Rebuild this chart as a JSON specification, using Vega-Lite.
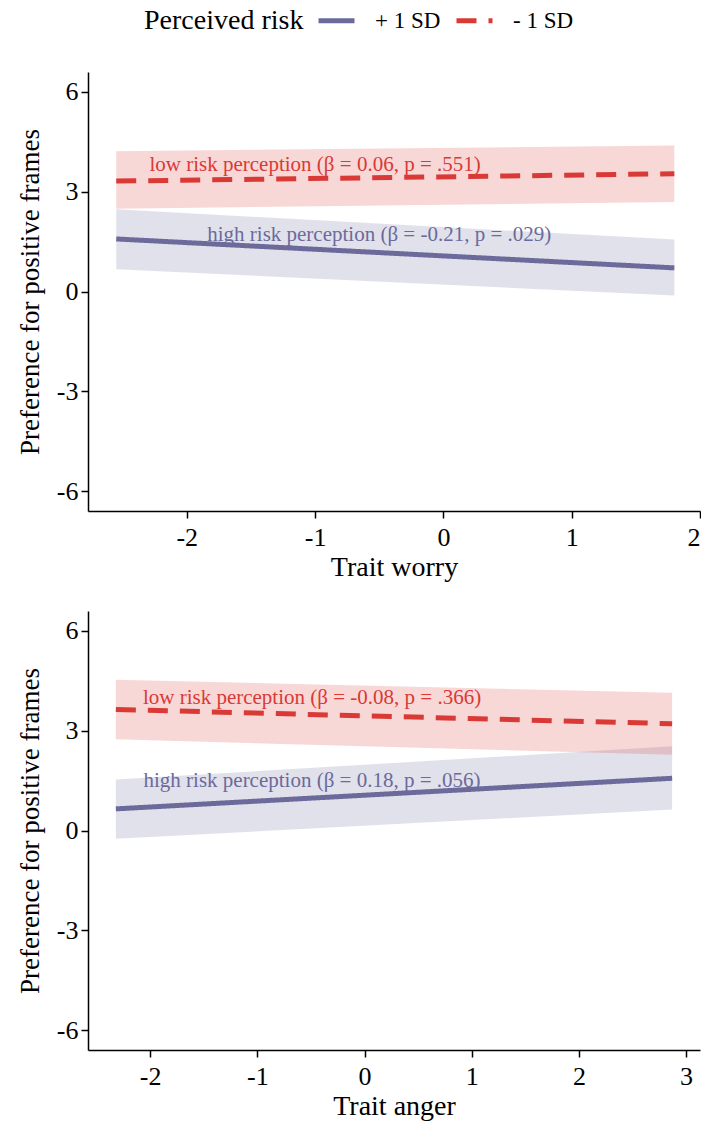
{
  "$schema": "https://vega.github.io/schema/vega-lite/v6.json",
  "padding": {"left": 16, "top": 0, "right": 0, "bottom": 4},
  "background": "white",
  "datasets": {
    "worry": [
      {"group": "+ 1 SD", "x": -2.55, "y": 1.58, "lo": 0.67, "hi": 2.47},
      {"group": "+ 1 SD", "x": 1.80, "y": 0.71, "lo": -0.12, "hi": 1.56},
      {"group": "- 1 SD", "x": -2.55, "y": 3.32, "lo": 2.49, "hi": 4.22},
      {"group": "- 1 SD", "x": 1.80, "y": 3.54, "lo": 2.69, "hi": 4.39}
    ],
    "worryText": [
      {"group": "- 1 SD", "x": -1.0, "y": 3.80, "label": "low risk perception (β = 0.06, p = .551)"},
      {"group": "+ 1 SD", "x": -0.5, "y": 1.71, "label": "high risk perception (β = -0.21, p = .029)"}
    ],
    "anger": [
      {"group": "+ 1 SD", "x": -2.32, "y": 0.65, "lo": -0.25, "hi": 1.53},
      {"group": "+ 1 SD", "x": 2.87, "y": 1.57, "lo": 0.63, "hi": 2.53},
      {"group": "- 1 SD", "x": -2.32, "y": 3.64, "lo": 2.74, "hi": 4.53},
      {"group": "- 1 SD", "x": 2.87, "y": 3.21, "lo": 2.28, "hi": 4.14}
    ],
    "angerText": [
      {"group": "- 1 SD", "x": -0.49, "y": 3.99, "label": "low risk perception (β = -0.08, p = .366)"},
      {"group": "+ 1 SD", "x": -0.49, "y": 1.50, "label": "high risk perception (β = 0.18, p = .056)"}
    ]
  },
  "vconcat": [
    {
      "width": 612,
      "height": 439,
      "layer": [
        {
          "data": {"name": "worry"},
          "mark": {"type": "area", "opacity": 0.2},
          "encoding": {
            "x": {"field": "x", "type": "quantitative", "scale": {"domain": [-2.77, 2.0], "nice": false, "zero": false}, "axis": {"title": "Trait worry", "values": [-2, -1, 0, 1, 2], "labelFlush": true}},
            "y": {"field": "lo", "type": "quantitative", "scale": {"domain": [-6.6, 6.6], "nice": false}, "axis": {"title": "Preference for positive frames", "values": [-6, -3, 0, 3, 6]}},
            "y2": {"field": "hi"},
            "color": {"field": "group", "type": "nominal", "title": "Perceived risk", "scale": {"domain": ["+ 1 SD", "- 1 SD"], "range": ["#6B6A9B", "#D93A36"]}}
          }
        },
        {
          "data": {"name": "worry"},
          "mark": {"type": "line", "strokeWidth": 5},
          "encoding": {
            "x": {"field": "x", "type": "quantitative"},
            "y": {"field": "y", "type": "quantitative"},
            "color": {"field": "group", "type": "nominal", "title": "Perceived risk"},
            "strokeDash": {"field": "group", "type": "nominal", "title": "Perceived risk", "scale": {"domain": ["+ 1 SD", "- 1 SD"], "range": [[1, 0], [20, 12]]}}
          }
        },
        {
          "data": {"name": "worryText"},
          "mark": {"type": "text", "font": "Liberation Serif", "fontSize": 21, "align": "center", "baseline": "middle"},
          "encoding": {
            "x": {"field": "x", "type": "quantitative"},
            "y": {"field": "y", "type": "quantitative"},
            "text": {"field": "label"},
            "color": {"field": "group", "type": "nominal", "title": "Perceived risk"}
          }
        }
      ]
    },
    {
      "width": 612,
      "height": 439,
      "layer": [
        {
          "data": {"name": "anger"},
          "mark": {"type": "area", "opacity": 0.2},
          "encoding": {
            "x": {"field": "x", "type": "quantitative", "scale": {"domain": [-2.58, 3.13], "nice": false, "zero": false}, "axis": {"title": "Trait anger", "values": [-2, -1, 0, 1, 2, 3]}},
            "y": {"field": "lo", "type": "quantitative", "scale": {"domain": [-6.6, 6.6], "nice": false}, "axis": {"title": "Preference for positive frames", "values": [-6, -3, 0, 3, 6]}},
            "y2": {"field": "hi"},
            "color": {"field": "group", "type": "nominal", "title": "Perceived risk"}
          }
        },
        {
          "data": {"name": "anger"},
          "mark": {"type": "line", "strokeWidth": 5},
          "encoding": {
            "x": {"field": "x", "type": "quantitative"},
            "y": {"field": "y", "type": "quantitative"},
            "color": {"field": "group", "type": "nominal", "title": "Perceived risk"},
            "strokeDash": {"field": "group", "type": "nominal", "title": "Perceived risk"}
          }
        },
        {
          "data": {"name": "angerText"},
          "mark": {"type": "text", "font": "Liberation Serif", "fontSize": 21, "align": "center", "baseline": "middle"},
          "encoding": {
            "x": {"field": "x", "type": "quantitative"},
            "y": {"field": "y", "type": "quantitative"},
            "text": {"field": "label"},
            "color": {"field": "group", "type": "nominal", "title": "Perceived risk"}
          }
        }
      ]
    }
  ],
  "spacing": 30,
  "config": {
    "view": {"stroke": null},
    "font": "Liberation Serif",
    "axis": {
      "grid": false,
      "domainColor": "black",
      "domainWidth": 1.5,
      "tickColor": "black",
      "tickWidth": 1.5,
      "tickSize": 7,
      "labelFont": "Liberation Serif",
      "labelFontSize": 26,
      "labelColor": "black",
      "labelPadding": 3,
      "titleFont": "Liberation Serif",
      "titleFontSize": 28,
      "titleFontWeight": "normal",
      "titleColor": "black",
      "labelExpr": "datum.value + ''"
    },
    "axisX": {"titlePadding": 3, "labelPadding": 6},
    "axisY": {"titlePadding": 12, "titleFontSize": 27},
    "legend": {
      "orient": "none",
      "legendX": 56,
      "legendY": -72,
      "direction": "horizontal",
      "titleOrient": "left",
      "titleBaseline": "line-top",
      "titleLineHeight": 10,
      "titleFont": "Liberation Serif",
      "titleFontSize": 28,
      "titleFontWeight": "normal",
      "titleColor": "black",
      "titlePadding": 12,
      "labelFont": "Liberation Serif",
      "labelFontSize": 23,
      "labelColor": "black",
      "labelOffset": 18,
      "columnPadding": 5,
      "symbolType": "stroke",
      "symbolSize": 1296,
      "symbolStrokeWidth": 5,
      "symbolOpacity": 1
    }
  }
}
